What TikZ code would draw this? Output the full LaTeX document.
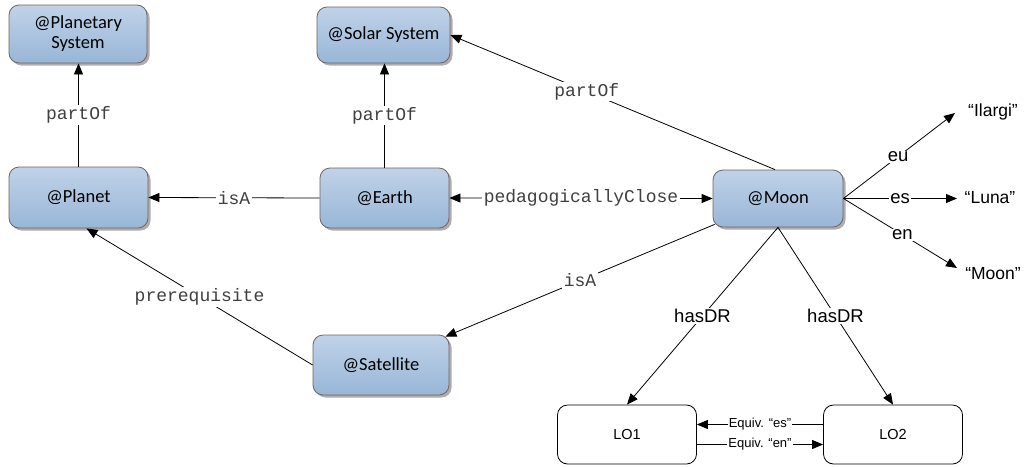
\documentclass[tikz,border=0pt]{standalone}
\usepackage{fontspec}
\setmainfont{Liberation Sans}
\newfontfamily\boxfont{Carlito}
\newfontfamily\cmono{Liberation Mono}
\usetikzlibrary{arrows.meta,shadows,calc}
\definecolor{boxtop}{RGB}{192,210,232}
\definecolor{boxbot}{RGB}{152,182,215}
\definecolor{boxline}{RGB}{112,100,100}
\definecolor{boxshadow}{RGB}{160,150,150}
\begin{document}
\begin{tikzpicture}[x=1pt,y=-1pt,
  concept/.style={draw=boxline, line width=0.8pt, rounded corners=10pt,
    top color=boxtop, bottom color=boxbot,
    drop shadow={shadow xshift=2.5pt, shadow yshift=-2.5pt, fill=boxshadow, opacity=0.8},
    font=\boxfont\fontsize{18.5}{20}\selectfont, align=center, inner sep=0pt},
  lobox/.style={draw=black, line width=0.8pt, rounded corners=10pt, fill=white,
    font=\fontsize{14.5}{16}\selectfont, inner sep=0pt, minimum width=139pt, minimum height=59pt},
  rel/.style={line width=0.8pt, -{Triangle[length=11pt,width=9pt]}},
  birel/.style={line width=0.8pt, {Triangle[length=11pt,width=9pt]}-{Triangle[length=11pt,width=9pt]}},
  mlbl/.style={fill=white, inner sep=1.5pt, font=\cmono\fontsize{18}{18}\selectfont, text=black!75},
  albl/.style={fill=white, inner sep=1pt, font=\fontsize{18.5}{19}\selectfont},
  elbl/.style={fill=white, inner sep=1pt, font=\fontsize{13}{14}\selectfont},
  word/.style={inner sep=0pt, font=\fontsize{17.5}{18}\selectfont}]
\useasboundingbox (0,0) rectangle (1024,466);

\node[concept, minimum width=138pt, minimum height=58pt] (ps) at (78,34) {@Planetary\\System};
\node[concept, minimum width=133pt, minimum height=56pt] (solar) at (383.5,35) {@Solar System};
\node[concept, minimum width=139pt, minimum height=61pt] (planet) at (78.5,197.5) {@Planet};
\node[concept, minimum width=129pt, minimum height=60pt] (earth) at (384.5,198) {@Earth};
\node[concept, minimum width=130pt, minimum height=57pt] (moon) at (778,198.5) {@Moon};
\node[concept, minimum width=136pt, minimum height=60pt] (sat) at (381,365) {@Satellite};
\node[lobox] (lo1) at (627,434.5) {LO1};
\node[lobox] (lo2) at (893,434.5) {LO2};

\node[word] (ilargi) at (993,112) {“Ilargi”};
\node[word] (luna) at (990,198) {“Luna”};
\node[word] (moonw) at (993,274) {“Moon”};
\coordinate (tipI) at (955,113);
\coordinate (tipL) at (957,198.5);
\coordinate (tipM) at (957,268);

% partOf edges
\draw[rel] (planet.north) -- node[mlbl] {partOf} (planet.north |- ps.south);
\draw[rel] (earth.north) -- node[mlbl] {partOf} (earth.north |- solar.south);
\draw[rel] ($(moon.north)+(-3,0)$) -- node[mlbl, pos=0.58] {partOf} (solar.east);

% isA
\draw[rel] (earth.west) -- node[mlbl] {isA} (planet.east);
\draw[birel] (earth.east) -- node[mlbl] {pedagogicallyClose} (moon.west);
\draw[rel] ($(moon.south west)+(2,-3)$) -- node[mlbl] {isA} ($(sat.north east)+(-4,2)$);
\draw[rel] (sat.west) -- node[mlbl] {prerequisite} ($(planet.south)+(8,0)$);

% hasDR
\draw[rel] (moon.south) -- node[albl] {hasDR} (lo1.north);
\draw[rel] (moon.south) -- node[albl] {hasDR} (lo2.north);

% Equiv
\draw[rel] ($(lo2.west)+(0,-10)$) -- node[elbl] {Equiv. “es”} ($(lo1.east)+(0,-10)$);
\draw[rel] ($(lo1.east)+(0,10)$) -- node[elbl] {Equiv. “en”} ($(lo2.west)+(0,10)$);

% languages
\draw[rel] (moon.east) -- node[albl, pos=0.49] {eu} (tipI);
\draw[rel] (moon.east) -- node[albl, pos=0.5] {es} (tipL);
\draw[rel] (moon.east) -- node[albl, pos=0.52] {en} (tipM);
\end{tikzpicture}
\end{document}
